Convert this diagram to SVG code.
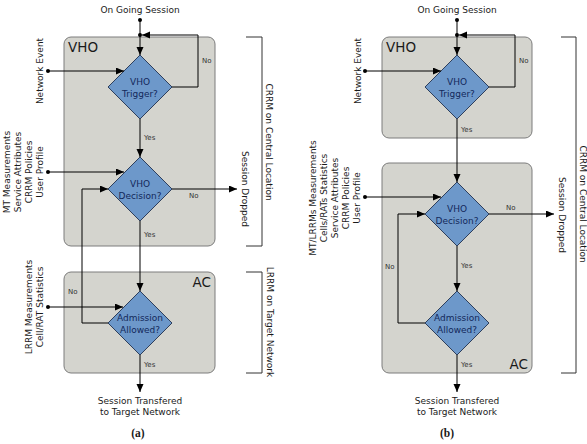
<svg xmlns="http://www.w3.org/2000/svg" width="587" height="444" viewBox="0 0 587 444">
<defs>
<marker id="ah" markerUnits="userSpaceOnUse" markerWidth="9" markerHeight="8" refX="8" refY="3.5" orient="auto"><path d="M0,0 L8,3.5 L0,7 z" fill="#000"/></marker>
<style>
text{font-family:"DejaVu Sans","Liberation Sans",sans-serif;fill:#1a1a1a}
.box{fill:#d4d4ce;stroke:#7c7c7c;stroke-width:1}
.dia{fill:#6d98ca;stroke:#2e3f5c;stroke-width:1}
.dt{font-size:9px;fill:#13285a;text-anchor:middle}
.bl{font-size:13.5px}
.yn{font-size:7px;fill:#333}
.lb{font-size:9px;text-anchor:middle}
.ln{fill:none;stroke:#000;stroke-width:1}
.ar{fill:none;stroke:#000;stroke-width:1;marker-end:url(#ah)}
.br{fill:none;stroke:#333;stroke-width:1}
.cap{font-family:"Liberation Serif","DejaVu Serif",serif;font-weight:bold;font-size:11.5px;text-anchor:middle}
</style>
</defs>

<!-- ===== Diagram (a) ===== -->
<g id="a-vho-box"><rect class="box" x="64" y="37" width="151" height="209" rx="7"/><text class="bl" x="68" y="52">VHO</text></g>
<g id="a-ac-box"><rect class="box" x="64" y="272" width="151" height="101" rx="7"/><text class="bl" x="211" y="287" text-anchor="end">AC</text></g>
<g id="a-trigger"><path class="dia" d="M140,55 L172,87 L140,119 L108,87 z"/><text class="dt" x="140" y="85">VHO</text><text class="dt" x="140" y="96.5">Trigger?</text></g>
<g id="a-decision"><path class="dia" d="M140,157 L172,189 L140,221 L108,189 z"/><text class="dt" x="140" y="187">VHO</text><text class="dt" x="140" y="198.5">Decision?</text></g>
<g id="a-admission"><path class="dia" d="M140,291 L172,323 L140,355 L108,323 z"/><text class="dt" x="140" y="321">Admission</text><text class="dt" x="140" y="332.5">Allowed?</text></g>

<g id="a-connectors">
<circle cx="140" cy="20" r="2"/><circle cx="140" cy="35" r="2"/>
<path class="ar" d="M140,20 V55"/>
<path class="ar" d="M172,87 H198 V35 H142"/>
<circle cx="48" cy="71" r="2"/><path class="ar" d="M48,71 H124"/>
<path class="ar" d="M140,119 V157"/>
<circle cx="48" cy="172" r="2"/><path class="ar" d="M48,172 H124"/>
<path class="ar" d="M172,189 H237"/>
<path class="ar" d="M140,221 V291"/>
<path class="ar" d="M108,323 H82 V189 H108"/>
<circle cx="48" cy="307" r="2"/><path class="ar" d="M48,307 H123"/>
<path class="ar" d="M140,355 V392"/>
</g>

<g id="a-labels">
<text class="lb" x="140" y="13">On Going Session</text>
<text class="yn" x="202" y="63">No</text>
<text class="yn" x="144" y="140">Yes</text>
<text class="yn" x="189" y="198">No</text>
<text class="yn" x="144" y="237">Yes</text>
<text class="yn" x="68" y="294">No</text>
<text class="yn" x="144" y="367">Yes</text>
<text class="lb" transform="translate(43,71) rotate(-90)">Network Event</text>
<text class="lb" transform="translate(10,172) rotate(-90)">MT Measurements</text>
<text class="lb" transform="translate(21,172) rotate(-90)">Service Attributes</text>
<text class="lb" transform="translate(32,172) rotate(-90)">CRRM Policies</text>
<text class="lb" transform="translate(43,172) rotate(-90)">User Profile</text>
<text class="lb" transform="translate(32,307) rotate(-90)">LRRM Measurements</text>
<text class="lb" transform="translate(43,307) rotate(-90)">Cell/RAT Statistics</text>
<text class="lb" transform="translate(242,189) rotate(90)">Session Dropped</text>
<text class="lb" x="140" y="404">Session Transfered</text>
<text class="lb" x="140" y="415">to Target Network</text>
<text class="cap" x="138" y="437">(a)</text>
</g>

<g id="a-brackets">
<path class="br" d="M246,37 H262 V246 H246"/>
<text class="lb" transform="translate(266,142) rotate(90)">CRRM on Central Location</text>
<path class="br" d="M246,272 H262 V373 H246"/>
<text class="lb" transform="translate(267,322) rotate(90)">LRRM on Target Network</text>
</g>

<!-- ===== Diagram (b) ===== -->
<g id="b-vho-box"><rect class="box" x="382" y="37" width="150" height="101" rx="7"/><text class="bl" x="386" y="52">VHO</text></g>
<g id="b-ac-box"><rect class="box" x="382" y="163" width="150" height="210" rx="7"/><text class="bl" x="528" y="369" text-anchor="end">AC</text></g>
<g id="b-trigger"><path class="dia" d="M457,55 L489,87 L457,119 L425,87 z"/><text class="dt" x="457" y="85">VHO</text><text class="dt" x="457" y="96.5">Trigger?</text></g>
<g id="b-decision"><path class="dia" d="M457,182 L489,214 L457,246 L425,214 z"/><text class="dt" x="457" y="212">VHO</text><text class="dt" x="457" y="223.5">Decision?</text></g>
<g id="b-admission"><path class="dia" d="M457,291 L489,323 L457,355 L425,323 z"/><text class="dt" x="457" y="321">Admission</text><text class="dt" x="457" y="332.5">Allowed?</text></g>

<g id="b-connectors">
<circle cx="457" cy="20" r="2"/><circle cx="457" cy="35" r="2"/>
<path class="ar" d="M457,20 V55"/>
<path class="ar" d="M489,87 H515 V35 H459"/>
<circle cx="365" cy="71" r="2"/><path class="ar" d="M365,71 H441"/>
<path class="ar" d="M457,119 V182"/>
<circle cx="365" cy="197" r="2"/><path class="ar" d="M365,197 H441"/>
<path class="ar" d="M489,214 H554"/>
<path class="ar" d="M457,246 V291"/>
<path class="ar" d="M425,323 H398 V214 H425"/>
<path class="ar" d="M457,355 V392"/>
</g>

<g id="b-labels">
<text class="lb" x="457" y="13">On Going Session</text>
<text class="yn" x="519" y="63">No</text>
<text class="yn" x="461" y="132">Yes</text>
<text class="yn" x="506" y="210">No</text>
<text class="yn" x="461" y="268">Yes</text>
<text class="yn" x="385" y="269">No</text>
<text class="yn" x="461" y="367">Yes</text>
<text class="lb" transform="translate(361,71) rotate(-90)">Network Event</text>
<text class="lb" transform="translate(316,198) rotate(-90)">MT/LRRMs Measurements</text>
<text class="lb" transform="translate(327,198) rotate(-90)">Cells/RATs Statistics</text>
<text class="lb" transform="translate(338,198) rotate(-90)">Service Attributes</text>
<text class="lb" transform="translate(349,198) rotate(-90)">CRRM Policies</text>
<text class="lb" transform="translate(360,198) rotate(-90)">User Profile</text>
<text class="lb" transform="translate(559,215) rotate(90)">Session Dropped</text>
<text class="lb" x="457" y="404">Session Transfered</text>
<text class="lb" x="457" y="415">to Target Network</text>
<text class="cap" x="447" y="437">(b)</text>
</g>

<g id="b-brackets">
<path class="br" d="M561,37 H576 V373 H561"/>
<text class="lb" transform="translate(579.5,204) rotate(90)">CRRM on Central Location</text>
</g>
</svg>
